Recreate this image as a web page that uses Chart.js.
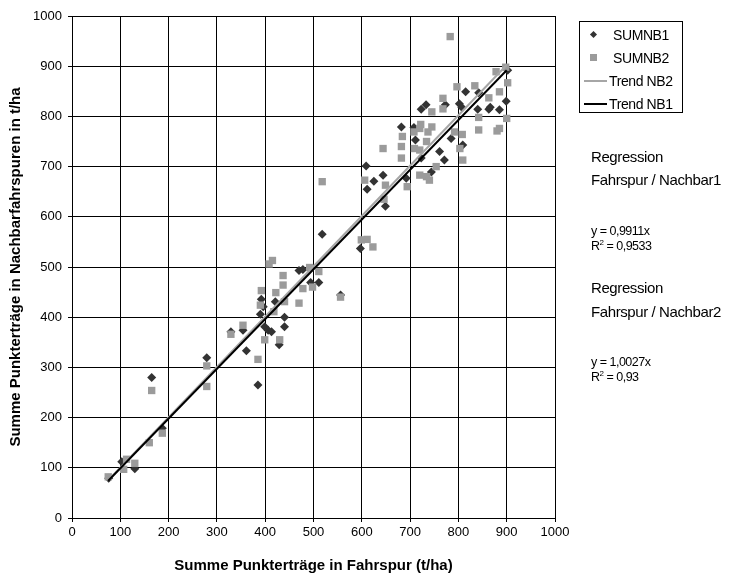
<!DOCTYPE html>
<html>
<head>
<meta charset="utf-8">
<script src="https://cdn.jsdelivr.net/npm/chart.js@4/dist/chart.umd.min.js"></script>
<style>
html,body{margin:0;padding:0;background:#fff;}
#wrap{position:relative;width:737px;height:585px;font-family:"Liberation Sans",Arial,sans-serif;color:#000;}
#c{position:absolute;left:0;top:0;}
#legend{position:absolute;left:579px;top:21px;width:104px;height:92px;border:1px solid #000;box-sizing:border-box;}
.row{position:absolute;left:0;height:20px;line-height:20px;font-size:14px;letter-spacing:-0.4px;white-space:nowrap;}
.dia{position:absolute;width:5px;height:5px;background:#333;transform:rotate(45deg);}
.sq{position:absolute;width:7px;height:7px;background:#9b9b9b;}
.ln{position:absolute;height:2px;}
.note{position:absolute;left:591px;white-space:nowrap;}
.big{font-size:15px;letter-spacing:-0.4px;}
.small{font-size:12.5px;letter-spacing:-0.5px;}
sup{font-size:8px;vertical-align:5px;line-height:0;}
</style>
</head>
<body>
<div id="wrap">
<canvas id="c" width="737" height="585"></canvas>
<div id="legend"></div>
<div class="note big" style="top:148px">Regression</div>
<div class="note big" style="top:171px">Fahrspur / Nachbar1</div>
<div class="note small" style="top:224px">y = 0,9911x</div>
<div class="note small" style="top:239px">R<sup>2</sup> = 0,9533</div>
<div class="note big" style="top:279px">Regression</div>
<div class="note big" style="top:303px">Fahrspur / Nachbar2</div>
<div class="note small" style="top:355px">y = 1,0027x</div>
<div class="note small" style="top:370px">R<sup>2</sup> = 0,93</div>
</div>
<script>
// Data
const seriesNames = ["SUMNB1", "SUMNB2", "Trend NB2", "Trend NB1"];
const nb1X = [76,103,130,165,187,279,329,354,361,385,390,392,396,399,406,413,421,429,440,440,470,478,494,511,518,556,597,609,611,625,644,649,682,692,708,711,723,723,733,744,761,771,773,785,802,807,809,815,840,842,863,866,885,899,902];
const nb1Y = [79,112,98,280,179,319,371,374,333,265,406,436,421,381,374,371,431,345,400,381,493,495,469,469,565,444,537,701,655,671,683,621,779,677,778,753,717,814,823,689,730,713,823,756,825,818,743,849,814,847,814,818,813,830,892];
const nb2X = [75,107,113,130,160,165,187,279,279,329,354,385,390,392,399,408,415,418,422,430,437,437,440,470,478,492,498,511,518,556,599,611,623,606,644,646,649,682,682,684,694,708,709,720,720,720,722,734,734,737,740,745,745,754,768,768,783,792,797,803,808,809,834,842,842,863,878,880,885,885,898,900,902];
const nb2Y = [82,97,117,109,150,254,169,303,262,366,384,316,424,453,355,506,513,411,449,355,483,464,431,428,457,499,460,491,670,440,554,555,540,673,736,635,663,740,717,760,660,769,736,776,733,683,784,750,680,769,673,809,779,700,836,815,959,769,859,736,764,713,861,798,773,837,889,771,849,776,898,796,867];
const slopes = [1.0027, 0.9911];      // Trend NB2, Trend NB1 (y = m x)
const trendRange = [75, 900];          // x range of the trend lines
const xTicks = [0,100,200,300,400,500,600,700,800,900,1000];
const yTicks = [0,100,200,300,400,500,600,700,800,900,1000];

const pts = (xs, ys) => xs.map((x, i) => ({x: x, y: ys[i]}));
const trend = m => trendRange.map(x => ({x: x, y: m * x}));

const cDia = '#333333', cSq = '#9b9b9b', cNB2 = '#a6a6a6', cNB1 = '#000000';
const FONT = '"Liberation Sans", Arial, sans-serif';

// HTML legend
const legendItems = [
  {name: seriesNames[0], kind: 'dia', color: cDia},
  {name: seriesNames[1], kind: 'sq', color: cSq},
  {name: seriesNames[2], kind: 'ln', color: cNB2},
  {name: seriesNames[3], kind: 'ln', color: cNB1}
];
const lg = document.getElementById('legend');
legendItems.forEach((it, i) => {
  const r = document.createElement('div');
  r.className = 'row';
  r.style.top = (3 + i * 23) + 'px';
  r.style.width = '102px';
  const m = document.createElement('span');
  m.className = it.kind;
  m.style.background = it.color;
  if (it.kind === 'dia') { m.style.left = '11px'; m.style.top = '7px'; }
  if (it.kind === 'sq') { m.style.left = '10px'; m.style.top = '6px'; }
  if (it.kind === 'ln') { m.style.left = '4px'; m.style.top = '9px'; m.style.width = '23px'; }
  r.appendChild(m);
  const t = document.createElement('span');
  t.textContent = it.name;
  t.style.position = 'absolute';
  t.style.left = (it.kind === 'ln' ? 29 : 33) + 'px';
  r.appendChild(t);
  lg.appendChild(r);
});

new Chart(document.getElementById('c'), {
  type: 'scatter',
  data: {
    datasets: [
      {label: seriesNames[0], data: pts(nb1X, nb1Y), pointStyle: 'rectRot', pointRadius: 4.5,
       backgroundColor: cDia, borderColor: cDia, borderWidth: 0, order: 4},
      {label: seriesNames[1], data: pts(nb2X, nb2Y), pointStyle: 'rect', pointRadius: 5.2,
       backgroundColor: cSq, borderColor: cSq, borderWidth: 0, order: 3},
      {label: seriesNames[2], data: trend(slopes[0]), showLine: true, pointRadius: 0,
       borderColor: cNB2, borderWidth: 2, order: 2},
      {label: seriesNames[3], data: trend(slopes[1]), showLine: true, pointRadius: 0,
       borderColor: cNB1, borderWidth: 2, order: 1}
    ]
  },
  options: {
    responsive: false,
    animation: false,
    layout: {padding: {left: 0, top: 16, right: 182, bottom: 0}},
    plugins: {legend: {display: false}, tooltip: {enabled: false}},
    scales: {
      x: {
        type: 'linear', min: 0, max: 1000,
        afterBuildTicks: s => { s.ticks = xTicks.map(v => ({value: v})); },
        afterFit: s => { s.height = 67; },
        grid: {color: '#000', lineWidth: 1, tickLength: 4, tickColor: '#000'},
        border: {color: '#000', width: 1},
        ticks: {color: '#000', padding: 3, font: {family: FONT, size: 13}, maxRotation: 0,
          callback: v => String(v)},
        title: {display: true, text: 'Summe Punkterträge in Fahrspur (t/ha)', color: '#000',
          font: {family: FONT, size: 15, weight: 'bold'}, padding: {top: 0, bottom: 10}}
      },
      y: {
        type: 'linear', min: 0, max: 1000,
        afterBuildTicks: s => { s.ticks = yTicks.map(v => ({value: v})); },
        afterFit: s => { s.width = 72; },
        grid: {color: '#000', lineWidth: 1, tickLength: 4, tickColor: '#000'},
        border: {color: '#000', width: 1},
        ticks: {color: '#000', padding: 6, font: {family: FONT, size: 13},
          callback: v => String(v)},
        title: {display: true, text: 'Summe Punkterträge in Nachbarfahrspuren in t/ha', color: '#000',
          font: {family: FONT, size: 15, weight: 'bold'}, padding: {top: 7, bottom: 0}}
      }
    }
  }
});
</script>
</body>
</html>
